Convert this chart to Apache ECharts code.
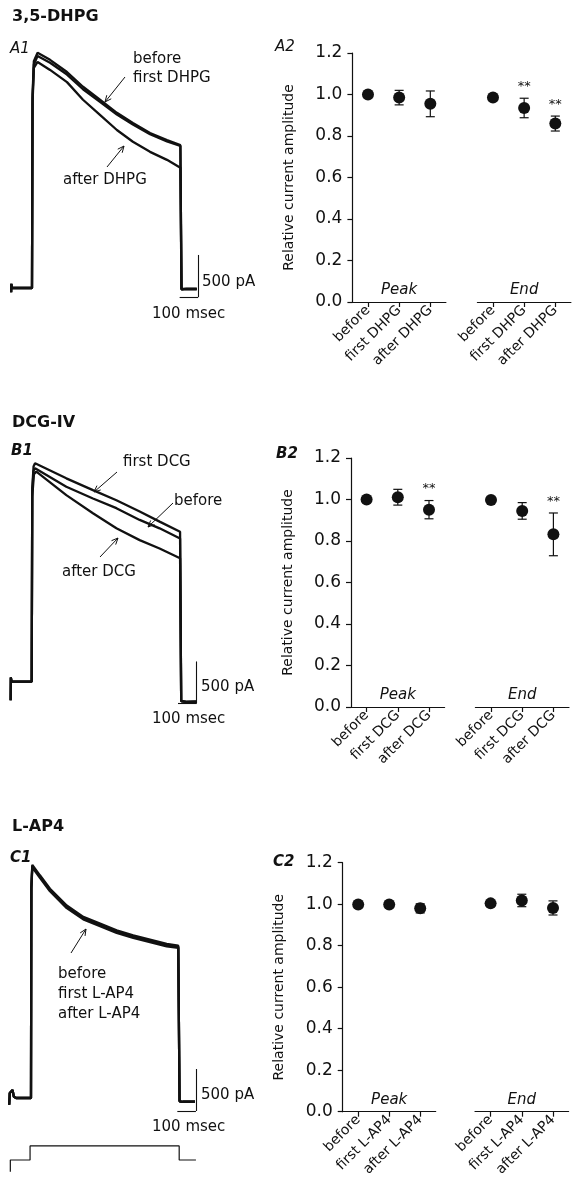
<!DOCTYPE html>
<html><head><meta charset="utf-8">
<script src="https://cdn.jsdelivr.net/npm/echarts@6/dist/echarts.min.js"></script>
<style>html,body{margin:0;padding:0;background:#fff}#c{width:578px;height:1199px}</style>
</head><body><div id="c"></div>
<script>
// ---------- DATA ----------
// Traces: [time (ms from step onset), current (pA)]
const traceA_before = [[-112,-50],[-111,50],[-108,0],[-100,10],[-60,0],[0,0],[3,2300],[10,2700],[30,2800],[97,2715],[188,2570],[274,2395],[365,2240],[456,2085],[542,1965],[634,1845],[725,1760],[797,1700],[800,1690],[803,-15],[830,-10],[885,-12]];
const traceA_first = [[-112,-50],[-111,50],[-108,0],[-100,10],[-60,0],[0,0],[3,2250],[10,2660],[30,2760],[97,2680],[188,2540],[274,2365],[365,2215],[456,2065],[542,1945],[634,1830],[725,1745],[797,1690],[800,1680],[803,-15],[830,-10],[885,-12]];
const traceA_after = [[-112,-50],[-111,50],[-108,0],[-100,10],[-60,0],[0,0],[3,2200],[10,2620],[30,2690],[97,2595],[188,2450],[274,2240],[365,2060],[456,1880],[542,1740],[634,1620],[725,1525],[797,1430],[800,1420],[803,-15],[830,-10],[885,-12]];

const traceB_first = [[-113,-220],[-112,50],[-108,0],[0,0],[3,2300],[10,2560],[18,2600],[186,2420],[329,2280],[455,2160],[580,2025],[687,1905],[797,1785],[800,1770],[803,-230],[830,-240],[886,-238]];
const traceB_before = [[-113,-220],[-112,50],[-108,0],[0,0],[3,2250],[10,2510],[18,2540],[186,2320],[329,2180],[455,2065],[580,1925],[687,1825],[797,1705],[800,1695],[803,-230],[830,-240],[886,-238]];
const traceB_after = [[-113,-220],[-112,50],[-108,0],[0,0],[3,2200],[12,2470],[25,2500],[186,2220],[329,2005],[455,1825],[580,1685],[687,1585],[797,1468],[800,1460],[803,-230],[830,-240],[886,-238]];

const traceC_before = [[-117,-80],[-114,60],[-99,95],[-92,15],[-80,0],[0,0],[2,2500],[7,2760],[48,2635],[102,2475],[192,2275],[281,2140],[371,2060],[460,1980],[549,1920],[639,1870],[729,1820],[791,1800],[795,1790],[798,-40],[815,-45],[881,-44]];
const traceC_first = [[-117,-80],[-114,60],[-99,95],[-92,15],[-80,0],[0,0],[2,2510],[7,2775],[48,2650],[102,2490],[192,2290],[281,2155],[371,2075],[460,1995],[549,1935],[639,1885],[729,1835],[791,1812],[795,1800],[798,-40],[815,-45],[881,-44]];
const traceC_after = [[-117,-80],[-114,60],[-99,95],[-92,15],[-80,0],[0,0],[2,2490],[7,2745],[48,2620],[102,2460],[192,2260],[281,2125],[371,2045],[460,1965],[549,1905],[639,1855],[729,1805],[791,1788],[795,1780],[798,-40],[815,-45],[881,-44]];

// Voltage protocol (ms, mV)
const protocol = [[-111,-100],[-111,-80],[-5,-80],[-5,-56],[796,-56],[796,-80],[886,-80]];

// Scale bars: [x (ms), y bottom (pA)] per trace panel
const scaleA = [893,-107];
const scaleB = [886,-259];
const scaleC = [886,-155];
const scaleMs = 100, scalePA = 500;

// Summary data
const catsA = ['before','first DHPG','after DHPG'];
const catsB = ['before','first DCG','after DCG'];
const catsC = ['before','first L-AP4','after L-AP4'];
const yTicks = [0,0.2,0.4,0.6,0.8,1.0,1.2];

const A_peak_mean = [1.00,0.985,0.955], A_peak_sem = [0.005,0.035,0.062], A_peak_sig = [0,0,0];
const A_end_mean  = [0.985,0.935,0.86],  A_end_sem  = [0.005,0.047,0.036], A_end_sig  = [0,1,1];
const B_peak_mean = [1.00,1.011,0.951], B_peak_sem = [0.005,0.038,0.044], B_peak_sig = [0,0,1];
const B_end_mean  = [0.998,0.945,0.832], B_end_sem = [0.005,0.040,0.103], B_end_sig  = [0,0,1];
const C_peak_mean = [0.998,0.998,0.98], C_peak_sem = [0.005,0.005,0.022], C_peak_sig = [0,0,0];
const C_end_mean  = [1.004,1.018,0.982], C_end_sem = [0.005,0.030,0.034], C_end_sig  = [0,0,0];

// ---------- CHART ----------
const FF = 'DejaVu Sans';
const INK = '#111';
const chart = echarts.init(document.getElementById('c'), null, {renderer:'canvas'});

const grids = [
  {left:9.65, top:35.9, width:189.9, height:285.7},   // 0 A1
  {left:9.35, top:429.6, width:189.9, height:285.7},  // 1 B1
  {left:8.65, top:845.9, width:189.9, height:285.7},  // 2 C1
  {left:8.65, top:1136.6, width:189.9, height:40.95}, // 3 protocol
  {left:352.4, top:53, width:93.5, height:249},       // 4 A2 peak
  {left:477.4, top:53, width:93.5, height:249},       // 5 A2 end
  {left:351, top:458, width:93.6, height:249},        // 6 B2 peak
  {left:475.4, top:458, width:93.6, height:249},      // 7 B2 end
  {left:342.7, top:862.7, width:93, height:249},      // 8 C2 peak
  {left:475, top:862.7, width:93.6, height:249}       // 9 C2 end
].map(g => Object.assign({containLabel:false, outerBoundsMode:'none'}, g));

const xAxes = [], yAxes = [];
for (let i=0;i<3;i++){
  xAxes.push({type:'value', gridIndex:i, min:-120, max:900, show:false});
  yAxes.push({type:'value', gridIndex:i, min:-400, max:3000, show:false});
}
xAxes.push({type:'value', gridIndex:3, min:-120, max:900, show:false});
yAxes.push({type:'value', gridIndex:3, min:-110, max:-40, show:false});

const lineSt = {color:INK, width:1.2};
function catX(gi, cats, name){
  return {type:'category', gridIndex:gi, data:cats,
    name:name, nameLocation:'middle', nameGap:-19,
    nameTextStyle:{fontFamily:FF, fontStyle:'italic', fontSize:15, color:INK},
    axisLine:{show:true, lineStyle:lineSt},
    axisTick:{show:true, alignWithLabel:true, length:5, lineStyle:lineSt},
    axisLabel:{rotate:45, interval:0, fontFamily:FF, fontSize:14, color:INK, margin:6},
    splitLine:{show:false}};
}
function valY(gi, visible){
  if(!visible) return {type:'value', gridIndex:gi, min:0, max:1.2, interval:0.2, show:false};
  return {type:'value', gridIndex:gi, min:0, max:1.2, interval:0.2,
    name:'Relative current amplitude', nameLocation:'middle', nameGap:56,
    nameTextStyle:{fontFamily:FF, fontSize:14, color:INK},
    axisLine:{show:true, lineStyle:lineSt},
    axisTick:{show:true, length:5, lineStyle:lineSt},
    axisLabel:{fontFamily:FF, fontSize:17, color:INK, margin:10, formatter:v=>v.toFixed(1)},
    splitLine:{show:false}};
}
const panels = [
  [4, catsA, A_peak_mean, A_peak_sem, A_peak_sig, 'Peak', true],
  [5, catsA, A_end_mean, A_end_sem, A_end_sig, 'End', false],
  [6, catsB, B_peak_mean, B_peak_sem, B_peak_sig, 'Peak', true],
  [7, catsB, B_end_mean, B_end_sem, B_end_sig, 'End', false],
  [8, catsC, C_peak_mean, C_peak_sem, C_peak_sig, 'Peak', true],
  [9, catsC, C_end_mean, C_end_sem, C_end_sig, 'End', false]
];
panels.forEach(p => { xAxes.push(catX(p[0], p[1], p[5])); yAxes.push(valY(p[0], p[6])); });

const series = [];
function trace(idx, data, w, scale){
  const s = {type:'line', xAxisIndex:idx, yAxisIndex:idx, data:data, showSymbol:false, symbol:'none',
    lineStyle:{color:INK, width:w, opacity:1}, silent:true, animation:false, z:2};
  if(scale){
    s.markLine = {silent:true, symbol:'none', animation:false, label:{show:false},
      lineStyle:{color:INK, width:1.1, type:'solid'},
      data:[
        [{coord:[scale[0], scale[1]]},{coord:[scale[0], scale[1]+scalePA]}],
        [{coord:[scale[0]-scaleMs, scale[1]]},{coord:[scale[0], scale[1]]}]
      ]};
  }
  series.push(s);
}
trace(0, traceA_before, 2.3, scaleA);
trace(0, traceA_first, 2.3);
trace(0, traceA_after, 2.3);
trace(1, traceB_first, 2.3, scaleB);
trace(1, traceB_before, 2.3);
trace(1, traceB_after, 2.3);
trace(2, traceC_before, 2.3, scaleC);
trace(2, traceC_first, 2.3);
trace(2, traceC_after, 2.3);
series.push({type:'line', xAxisIndex:3, yAxisIndex:3, data:protocol, showSymbol:false, symbol:'none',
  lineStyle:{color:INK, width:1.2}, animation:false, silent:true});

panels.forEach(p => {
  const gi = p[0], means = p[2], sems = p[3], sig = p[4];
  series.push({type:'custom', xAxisIndex:gi, yAxisIndex:gi, animation:false, silent:true, z:1,
    data: means.map((m,i)=>[i, m-sems[i], m+sems[i], sig[i]]),
    encode:{x:0, y:[1,2]},
    renderItem:(params, api)=>{
      const lo = api.coord([api.value(0), api.value(1)]);
      const hi = api.coord([api.value(0), api.value(2)]);
      const hw = 4.5, st = {stroke:INK, lineWidth:1.2};
      const ch = [
        {type:'line', shape:{x1:lo[0], y1:lo[1], x2:hi[0], y2:hi[1]}, style:st},
        {type:'line', shape:{x1:lo[0]-hw, y1:lo[1], x2:lo[0]+hw, y2:lo[1]}, style:st},
        {type:'line', shape:{x1:hi[0]-hw, y1:hi[1], x2:hi[0]+hw, y2:hi[1]}, style:st}
      ];
      if (api.value(3)) ch.push({type:'text', x:hi[0], y:hi[1]-5,
        style:{text:'**', fill:INK, font:'13px "'+FF+'"', textAlign:'center', align:'center', verticalAlign:'bottom', textVerticalAlign:'bottom'}});
      return {type:'group', children:ch};
    }});
  series.push({type:'scatter', xAxisIndex:gi, yAxisIndex:gi, data:means, symbol:'circle', symbolSize:12,
    itemStyle:{color:INK, opacity:1}, animation:false, silent:true, z:3});
});

// ---------- ANNOTATIONS ----------
function txt(x, y, s, opt){
  opt = opt || {};
  return {type:'text', x:x, y:y, silent:true, style:{text:s, fill:INK,
    font:(opt.style||'normal')+' '+(opt.weight||'normal')+' '+(opt.size||15)+'px "'+FF+'"',
    textAlign:opt.align||'left', align:opt.align||'left', verticalAlign:'middle', textVerticalAlign:'middle'}};
}
function arrow(x1,y1,x2,y2){
  const a = Math.atan2(y2-y1, x2-x1), L = 7, s = 0.42;
  return {type:'group', silent:true, children:[
    {type:'line', shape:{x1:x1,y1:y1,x2:x2,y2:y2}, style:{stroke:INK, lineWidth:1}},
    {type:'polyline', shape:{points:[[x2-L*Math.cos(a-s), y2-L*Math.sin(a-s)],[x2,y2],[x2-L*Math.cos(a+s), y2-L*Math.sin(a+s)]]},
      style:{stroke:INK, lineWidth:1, fill:null}}
  ]};
}
const graphic = [
  txt(12, 17, '3,5-DHPG', {weight:'bold', size:16}),
  txt(12, 423, 'DCG-IV', {weight:'bold', size:16}),
  txt(12, 827, 'L-AP4', {weight:'bold', size:16}),
  txt(10, 49, 'A1', {style:'italic', size:15}),
  txt(275, 47, 'A2', {style:'italic', size:15}),
  txt(11, 451, 'B1', {style:'italic', weight:'bold', size:15}),
  txt(276, 454, 'B2', {style:'italic', weight:'bold', size:15}),
  txt(10, 858, 'C1', {style:'italic', weight:'bold', size:15}),
  txt(273, 862, 'C2', {style:'italic', weight:'bold', size:15}),
  // A1
  txt(133, 59, 'before'), txt(133, 78, 'first DHPG'), txt(63, 180, 'after DHPG'),
  arrow(125, 77, 105, 102), arrow(107, 167, 124, 146),
  txt(202, 282, '500 pA'), txt(152, 314, '100 msec'),
  // B1
  txt(123, 462, 'first DCG'), txt(174, 501, 'before'), txt(62, 572, 'after DCG'),
  arrow(117, 472, 94, 492), arrow(173, 503, 148, 527), arrow(100, 557, 118, 538),
  txt(201, 687, '500 pA'), txt(152, 719, '100 msec'),
  // C1
  txt(58, 974, 'before'), txt(58, 994, 'first L-AP4'), txt(58, 1014, 'after L-AP4'),
  arrow(71, 953, 86, 929),
  txt(201, 1095, '500 pA'), txt(152, 1127, '100 msec')
];

chart.setOption({
  animation:false,
  backgroundColor:'#fff',
  textStyle:{fontFamily:FF, color:INK},
  grid:grids, xAxis:xAxes, yAxis:yAxes, series:series, graphic:graphic
});
</script></body></html>
